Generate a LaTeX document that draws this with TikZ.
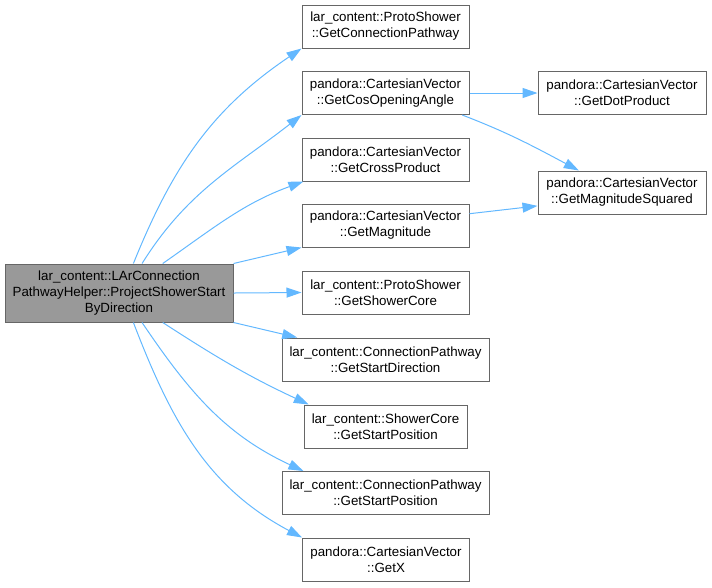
\documentclass[tikz,border=0pt]{standalone}
\usepackage{fontspec}
\setmainfont{Liberation Sans}
\usetikzlibrary{arrows.meta}
\definecolor{boxline}{HTML}{666666}
\definecolor{mainfill}{HTML}{999999}
\definecolor{callblue}{HTML}{63B8FF}
\tikzset{
  fn/.style={draw=boxline, fill=white, line width=0.75pt, align=center, inner sep=0pt,
    minimum width=125.25pt, minimum height=32.25pt, font=\fontsize{10}{12}\selectfont},
  mainfn/.style={fn, fill=mainfill, minimum width=171pt, minimum height=43.5pt},
  call/.style={draw=callblue, line width=0.75pt, -{Triangle[length=11.25pt,width=7.5pt]}}
}
\begin{document}
\begin{tikzpicture}[x=0.75pt,y=-0.75pt]
\useasboundingbox (0,0) rectangle (712,587);
\path(119,293) node[mainfn](Project){lar\_content::LArConnection\\PathwayHelper::ProjectShowerStart\\ByDirection}
(385.5,26.5) node[fn](GetConnectionPathway){lar\_content::ProtoShower\\::GetConnectionPathway}
(385.5,93) node[fn](GetCosOpeningAngle){pandora::CartesianVector\\::GetCosOpeningAngle}
(385.5,159.5) node[fn](GetCrossProduct){pandora::CartesianVector\\::GetCrossProduct}
(385.5,225.5) node[fn](GetMagnitude){pandora::CartesianVector\\::GetMagnitude}
(385.5,292.5) node[fn](GetShowerCore){lar\_content::ProtoShower\\::GetShowerCore}
(385.5,359.5) node[fn, minimum width=155.25pt](GetStartDirection){lar\_content::ConnectionPathway\\::GetStartDirection}
(385.5,426.5) node[fn, minimum width=122.25pt](CoreStartPosition){lar\_content::ShowerCore\\::GetStartPosition}
(385.5,493) node[fn, minimum width=155.25pt](PathwayStartPosition){lar\_content::ConnectionPathway\\::GetStartPosition}
(386,559.5) node[fn](GetX){pandora::CartesianVector\\::GetX}
(622,93) node[fn, minimum width=126pt](GetDotProduct){pandora::CartesianVector\\::GetDotProduct}
(622,192.5) node[fn, minimum width=126pt](GetMagnitudeSquared){pandora::CartesianVector\\::GetMagnitudeSquared};

\draw[call] (Project.64) to[out=68,in=214] (GetConnectionPathway.south west);
\draw[call] (Project.52) to[out=58,in=218] (GetCosOpeningAngle.south west);
\draw[call] (Project.34) to[out=35,in=200] (GetCrossProduct.195.5);
\draw[call] (Project.north east) -- (GetMagnitude.south west);
\draw[call] (Project.east) -- (GetShowerCore.west);
\draw[call] (Project.south east) -- (GetStartDirection.166);
\draw[call] (Project.-34) to[out=-33,in=155] (CoreStartPosition.164);
\draw[call] (Project.-52) to[out=-56,in=155] (PathwayStartPosition.165);
\draw[call] (Project.-64) to[out=-69,in=152] (GetX.north west);
\draw[call] (GetCosOpeningAngle.east) -- (GetDotProduct.west);
\draw[call] (GetCosOpeningAngle.-16) to[out=-21,in=152] (GetMagnitudeSquared.153);
\draw[call] (GetMagnitude.8) -- (GetMagnitudeSquared.189);
\end{tikzpicture}
\end{document}
